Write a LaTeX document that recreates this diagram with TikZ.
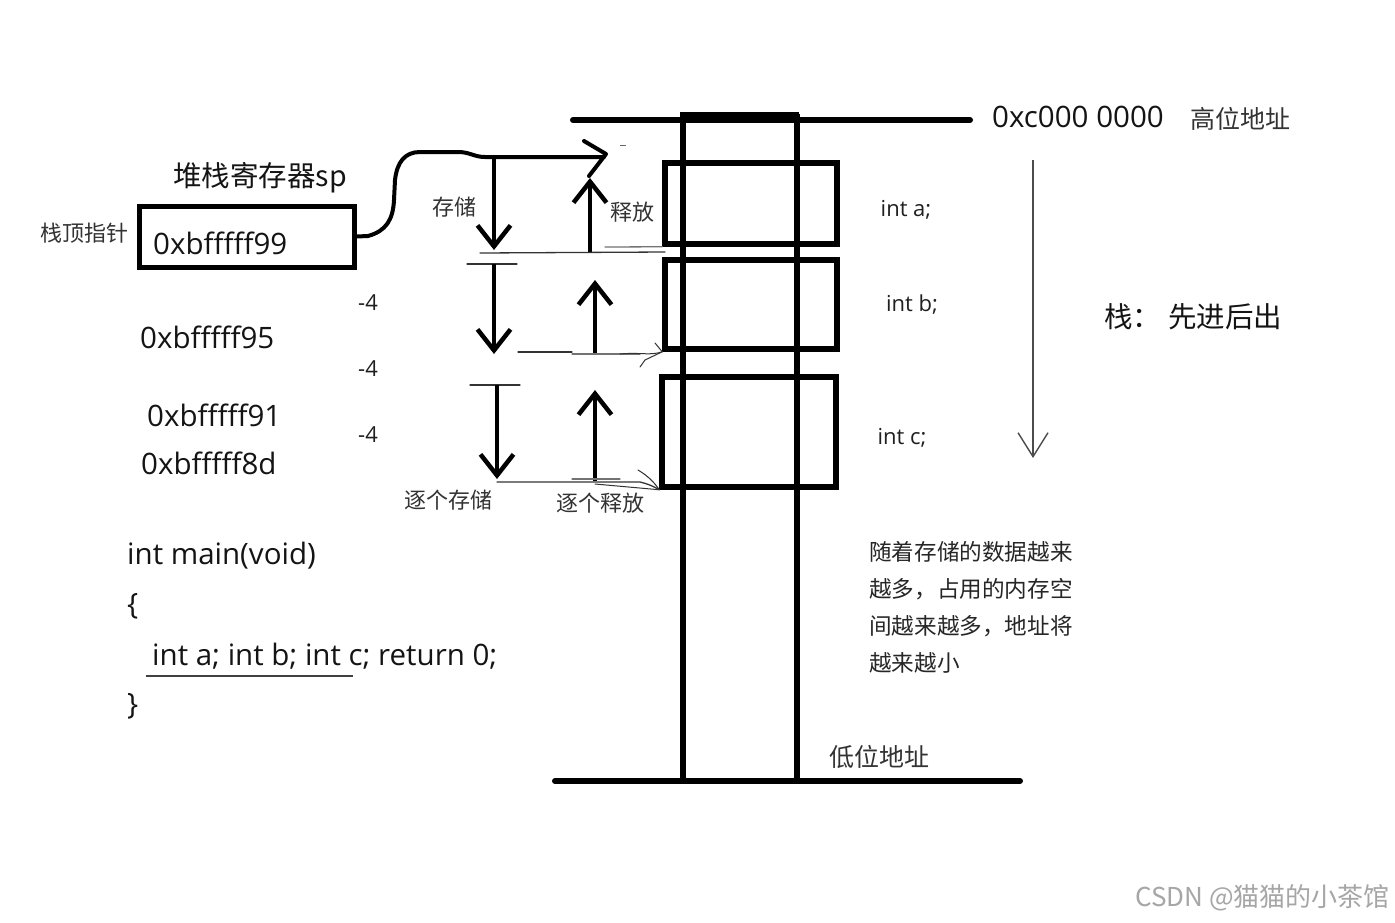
\documentclass[tikz,border=0pt]{standalone}
\usepackage{fontspec}
\setmainfont{Open Sans}
\newfontfamily\cjk{Noto Sans CJK SC}
\usetikzlibrary{arrows.meta}
\begin{document}
\begin{tikzpicture}[x=1pt,y=-1pt,
  heavy/.style={line width=6pt,line cap=round},
  memcell/.style={draw,line width=5.5pt,inner sep=0pt},
  bigarrow/.style={line width=4.5pt,-{Straight Barb[length=21pt,width=33pt]}},
  fine/.style={line width=1.3pt,draw=black!80,line cap=round},
  lbl/.style={inner sep=0pt,font=\cjk\fontsize{22}{26}\selectfont,text=black!80},
  big/.style={inner sep=0pt,font=\fontsize{29.5}{33}\selectfont,text=black!92},
  bigc/.style={inner sep=0pt,font=\cjk\fontsize{28.5}{32}\selectfont,text=black!92},
  mid/.style={inner sep=0pt,font=\cjk\fontsize{25}{30}\selectfont,text=black!80},
  small/.style={inner sep=0pt,font=\fontsize{22}{26}\selectfont,text=black!88}]
\useasboundingbox (0,0) rectangle (1395,922);
\fill[white] (0,0) rectangle (1395,922);

% memory column
\coordinate (topL) at (573,120);
\coordinate (topR) at (970,120);
\coordinate (botL) at (555,781);
\coordinate (botR) at (1020,781);
\draw[heavy] (topL) -- (topR);
\draw[heavy] (botL) -- (botR);
\fill (680,112) rectangle (799,122);
\coordinate (colLt) at (683,114);
\coordinate (colLb) at (683,781);
\coordinate (colRt) at (797,114);
\coordinate (colRb) at (797,781);
\draw[line width=6pt] (colLt) -- (colLb);
\draw[line width=6pt] (colRt) -- (colRb);

% cells
\node[memcell,minimum width=172pt,minimum height=81pt] (ca) at (751,203.5) {};
\node[memcell,minimum width=172pt,minimum height=89pt] (cb) at (751,304.5) {};
\node[memcell,minimum width=174pt,minimum height=110pt] (cc) at (749,432) {};

\node[small] (ia) at (906,210) {int a;};
\node[small] (ib) at (912,305) {int b;};
\node[small] (ic) at (902,438) {int c;};

\node[big,anchor=west] (hiaddr) at (992,117) {0xc000 0000};
\node[mid,anchor=west] (hilbl) at (1190,119) {高位地址};
\node[mid,anchor=west] (lolbl) at (829,757) {低位地址};

% direction arrow on the right
\coordinate (dirA) at (1033,160);
\coordinate (dirB) at (1033,458);
\draw[line width=1.4pt,draw=black!70,-{Straight Barb[length=24pt,width=30pt]}] (dirA) -- (dirB);

\node[bigc,anchor=west] (lifo) at (1104,317) {栈：\hspace{7pt}先进后出};

\node[inner sep=0pt,anchor=north west,align=left,font=\cjk\fontsize{22.6}{37}\selectfont,text=black!85] (expl) at (869,541)
 {随着存储的数据越来\\越多，占用的内存空\\间越来越多，地址将\\越来越小};

% stack pointer register
\node[bigc] (spname) at (260,178) {堆栈寄存器sp};
\node[draw,line width=5pt,minimum width=215pt,minimum height=61pt,inner sep=0pt] (sp) at (246.5,236.5) {};
\node[big,anchor=west] (spval) at (153,243) {0xbfffff99};
\node[lbl] (sptop) at (84,233) {栈顶指针};

% pointer curve
\coordinate (hd) at (604,157);
\coordinate (d1a) at (494,157);
\draw[line width=4pt,line join=round,line cap=round] (sp.east) -- (368,236)
  .. controls (386,231) and (393,220) .. (394,200) -- (395,180)
  .. controls (397,162) and (405,152) .. (420,152) -- (458,152)
  .. controls (470,152) and (474,157) .. (485,157) -- (hd);
\draw[line width=4pt,line cap=round,line join=round] (584,141) -- (606,154) -- (589,176);
\draw[line width=1pt,black!60] (620,145) -- (626,145);

% store / release arrows
\coordinate (d1b) at (494,250);
\coordinate (u1a) at (590,252);
\coordinate (u1b) at (590,178);
\draw[bigarrow] (d1a) -- (d1b);
\draw[bigarrow] (u1a) -- (u1b);
\coordinate (l1a) at (480,253);
\coordinate (l1b) at (665,252);
\draw[fine] (l1a) -- (l1b);
\draw[fine,black!55] (605,247) -- (ca.south west);

\coordinate (t2a) at (467,264);
\coordinate (t2b) at (517,264);
\draw[fine] (t2a) -- (t2b);
\coordinate (d2a) at (494,264);
\coordinate (d2b) at (494,354);
\draw[bigarrow] (d2a) -- (d2b);
\coordinate (u2a) at (595,355);
\coordinate (u2b) at (595,280);
\draw[bigarrow] (u2a) -- (u2b);
\coordinate (l2a) at (518,352);
\coordinate (l2b) at (572,352);
\draw[fine] (l2a) -- (l2b);
\draw[fine,black!55] (572,354) -- (640,354);
\draw[fine,line width=1pt] (620,354) .. controls (640,352) and (650,356) .. (cb.south west);
\draw[fine,line width=1pt] (655,343) -- (cb.south west) -- (645,360) -- (640,367);

\coordinate (t3a) at (470,385);
\coordinate (t3b) at (520,385);
\draw[fine] (t3a) -- (t3b);
\coordinate (d3a) at (497,385);
\coordinate (d3b) at (497,479);
\draw[bigarrow] (d3a) -- (d3b);
\coordinate (u3a) at (595,481);
\coordinate (u3b) at (595,390);
\draw[bigarrow] (u3a) -- (u3b);
\coordinate (l3a) at (497,482);
\draw[fine] (l3a) -- (640,482) .. controls (648,484) and (653,486) .. (cc.south west);
\draw[fine,black!55] (572,479) -- (620,479);
\draw[fine,line width=1pt] (638,470) .. controls (648,476) and (654,482) .. (cc.south west);
\draw[fine,line width=1pt] (595,484) -- (cc.south west);

\node[lbl] (cun) at (454,207) {存储};
\node[lbl] (shi) at (632,212) {释放};
\node[lbl] (zcun) at (448,500) {逐个存储};
\node[lbl] (zshi) at (600,503) {逐个释放};

% offsets and addresses
\node[small] (m4a) at (368,303) {-4};
\node[small] (m4b) at (368,369) {-4};
\node[small] (m4c) at (368,435) {-4};
\node[big,anchor=west] (a95) at (140,337) {0xbfffff95};
\node[big,anchor=west] (a91) at (147,415) {0xbfffff91};
\node[big,anchor=west] (a8d) at (141,463) {0xbfffff8d};

% code
\node[big,anchor=west] (c1) at (127,556) {int main(void)};
\node[big,anchor=west] (c2) at (127,606) {\{};
\node[big,anchor=west] (c3) at (152,656) {int a; int b; int c; return 0;};
\node[big,anchor=west] (c4) at (127,706) {\}};
\coordinate (ulA) at (146,676);
\coordinate (ulB) at (353,676);
\draw[line width=1.5pt,black!75] (ulA) -- (ulB);

% watermark
\node[inner sep=0pt,anchor=east,font=\cjk\fontsize{26}{30}\selectfont,text=black!35] (wm) at (1390,898) {CSDN @猫猫的小茶馆};
\end{tikzpicture}
\end{document}
